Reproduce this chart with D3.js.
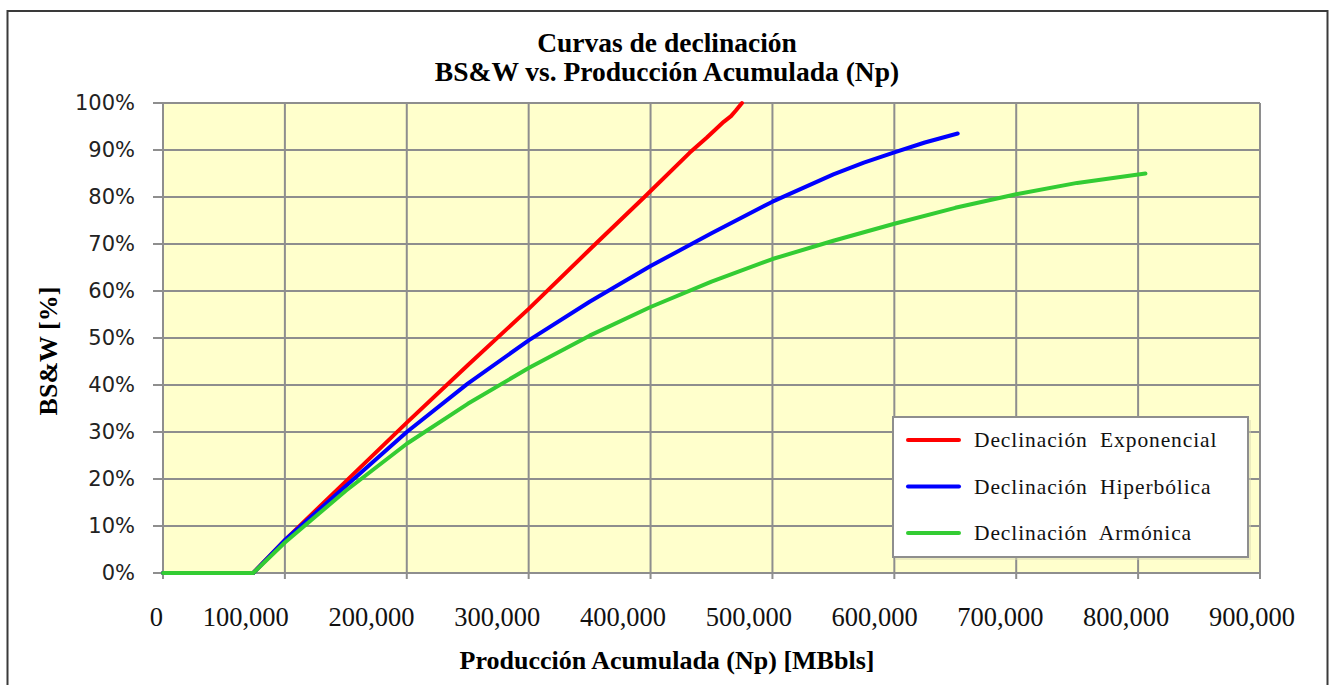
<!DOCTYPE html>
<html>
<head>
<meta charset="utf-8">
<script src="https://cdn.jsdelivr.net/npm/d3@7"></script>
<style>
  html, body { margin: 0; padding: 0; background: #ffffff; }
  svg { display: block; }
</style>
</head>
<body>
<svg id="chart" width="1333" height="685"></svg>
<script>
// ---------------- DATA ----------------
const titleLines = ["Curvas de declinación", "BS&W vs. Producción Acumulada (Np)"];
const xAxisTitle = "Producción Acumulada (Np) [MBbls]";
const yAxisTitle = "BS&W [%]";
const seriesNames = ["Declinación Exponencial", "Declinación Hiperbólica", "Declinación Armónica"];
const seriesColors = ["#ff0000", "#0000ff", "#33cc33"];

const xTickValues = [0, 100000, 200000, 300000, 400000, 500000, 600000, 700000, 800000, 900000];
const yTickValues = [0, 10, 20, 30, 40, 50, 60, 70, 80, 90, 100];

// Declinación Exponencial
const npExp   = [0, 74000, 100000, 150000, 200000, 250000, 300000, 352000, 395000, 432000, 446000, 455000, 460000, 466000, 470000, 475000];
const bswExp  = [0, 0, 7, 19.5, 32, 44.2, 56.2, 69.3, 80, 89.4, 92.6, 94.8, 96.0, 97.2, 98.4, 100];
// Declinación Hiperbólica
const npHip   = [0, 74000, 100000, 150000, 200000, 250000, 300000, 350000, 400000, 450000, 500000, 550000, 575000, 600000, 625000, 652000];
const bswHip  = [0, 0, 7, 18.5, 30, 40.3, 49.5, 57.7, 65.3, 72.3, 79.0, 84.8, 87.3, 89.5, 91.6, 93.5];
// Declinación Armónica
const npArm   = [0, 74000, 100000, 150000, 200000, 250000, 300000, 350000, 400000, 450000, 500000, 550000, 600000, 650000, 700000, 750000, 806000];
const bswArm  = [0, 0, 6.5, 17.5, 27.5, 36, 43.6, 50.5, 56.6, 62, 66.8, 70.7, 74.3, 77.7, 80.6, 83, 85];

// ---------------- LAYOUT ----------------
const svg = d3.select("#chart");
const W = 1333, H = 685;
const plot = { left: 163, right: 1260, top: 103, bottom: 573 };

const x = d3.scaleLinear().domain([0, 900000]).range([plot.left, plot.right]);
const y = d3.scaleLinear().domain([0, 100]).range([plot.bottom, plot.top]);
// tick labels in the reference are laid out on a slightly wider spacing (right-aligned)
const xLabel = d3.scaleLinear().domain([0, 900000]).range([plot.left, plot.left + 1132]);

const fmt = d3.format(",");
const serif = "'Liberation Serif', 'Times New Roman', serif";
const sans = "'DejaVu Sans', Verdana, sans-serif";

// outer frame
svg.append("rect").attr("x", 0).attr("y", 0).attr("width", W).attr("height", H).attr("fill", "#fff");
svg.append("rect")
  .attr("x", 7.5).attr("y", 11).attr("width", 1320).attr("height", 720)
  .attr("fill", "none").attr("stroke", "#3a3a3a").attr("stroke-width", 2);

// plot background
svg.append("rect")
  .attr("x", plot.left).attr("y", plot.top)
  .attr("width", plot.right - plot.left).attr("height", plot.bottom - plot.top)
  .attr("fill", "#ffffcc");

const gridColor = "#8e8e8e";
// vertical grid
svg.append("g").selectAll("line").data(xTickValues).join("line")
  .attr("x1", d => x(d)).attr("x2", d => x(d))
  .attr("y1", plot.top).attr("y2", plot.bottom + 6)
  .attr("stroke", gridColor).attr("stroke-width", 2);
// horizontal grid
svg.append("g").selectAll("line").data(yTickValues).join("line")
  .attr("x1", plot.left - 10).attr("x2", plot.right)
  .attr("y1", d => y(d)).attr("y2", d => y(d))
  .attr("stroke", gridColor).attr("stroke-width", 2);

// y tick labels
svg.append("g").selectAll("text").data(yTickValues).join("text")
  .attr("x", 135).attr("y", d => y(d))
  .attr("text-anchor", "end").attr("dominant-baseline", "central")
  .attr("font-family", sans).attr("font-size", 21).attr("fill", "#222")
  .text(d => d + "%");

// x tick labels
svg.append("g").selectAll("text").data(xTickValues).join("text")
  .attr("x", d => xLabel(d)).attr("y", 626)
  .attr("text-anchor", "end")
  .attr("font-family", serif).attr("font-size", 26.5).attr("fill", "#111")
  .text(d => fmt(d));

// axis titles
svg.append("text")
  .attr("x", 667).attr("y", 669).attr("text-anchor", "middle")
  .attr("font-family", serif).attr("font-size", 26).attr("font-weight", "bold").attr("fill", "#000")
  .text(xAxisTitle);
svg.append("text")
  .attr("transform", "translate(57,351) rotate(-90)")
  .attr("text-anchor", "middle")
  .attr("font-family", serif).attr("font-size", 26).attr("font-weight", "bold").attr("fill", "#000")
  .text(yAxisTitle);

// title
svg.append("g").selectAll("text").data(titleLines).join("text")
  .attr("x", 667).attr("y", (d, i) => 52 + i * 29)
  .attr("text-anchor", "middle")
  .attr("font-family", serif).attr("font-size", 27.5).attr("font-weight", "bold").attr("fill", "#000")
  .text(d => d);

// series
const series = [
  { name: seriesNames[0], color: seriesColors[0], xs: npExp, ys: bswExp },
  { name: seriesNames[1], color: seriesColors[1], xs: npHip, ys: bswHip },
  { name: seriesNames[2], color: seriesColors[2], xs: npArm, ys: bswArm }
];
const line = d3.line().x(d => x(d[0])).y(d => y(d[1])).curve(d3.curveLinear);
svg.append("g").selectAll("path").data(series).join("path")
  .attr("d", s => line(s.xs.map((v, i) => [v, s.ys[i]])))
  .attr("fill", "none").attr("stroke", s => s.color)
  .attr("stroke-width", 4).attr("stroke-linejoin", "round").attr("stroke-linecap", "round");

// legend
const lg = svg.append("g").attr("transform", "translate(893,417)");
lg.append("rect").attr("x", 3).attr("y", 3).attr("width", 355).attr("height", 140).attr("fill", "#d8d8b0").attr("opacity", 0.5);
lg.append("rect").attr("width", 355).attr("height", 140)
  .attr("fill", "#ffffff").attr("stroke", "#8e8e8e").attr("stroke-width", 2);
const items = lg.selectAll("g.item").data(series).join("g").attr("class", "item")
  .attr("transform", (d, i) => `translate(0,${23 + i * 46.5})`);
items.append("line").attr("x1", 15).attr("x2", 66).attr("y1", 0).attr("y2", 0)
  .attr("stroke", d => d.color).attr("stroke-width", 4).attr("stroke-linecap", "round");
items.append("text").attr("x", 81).attr("y", 0).attr("dominant-baseline", "central")
  .attr("font-family", serif).attr("font-size", 21.5).attr("fill", "#111")
  .attr("letter-spacing", 0.9).attr("word-spacing", 6)
  .text(d => d.name);
</script>
</body>
</html>
